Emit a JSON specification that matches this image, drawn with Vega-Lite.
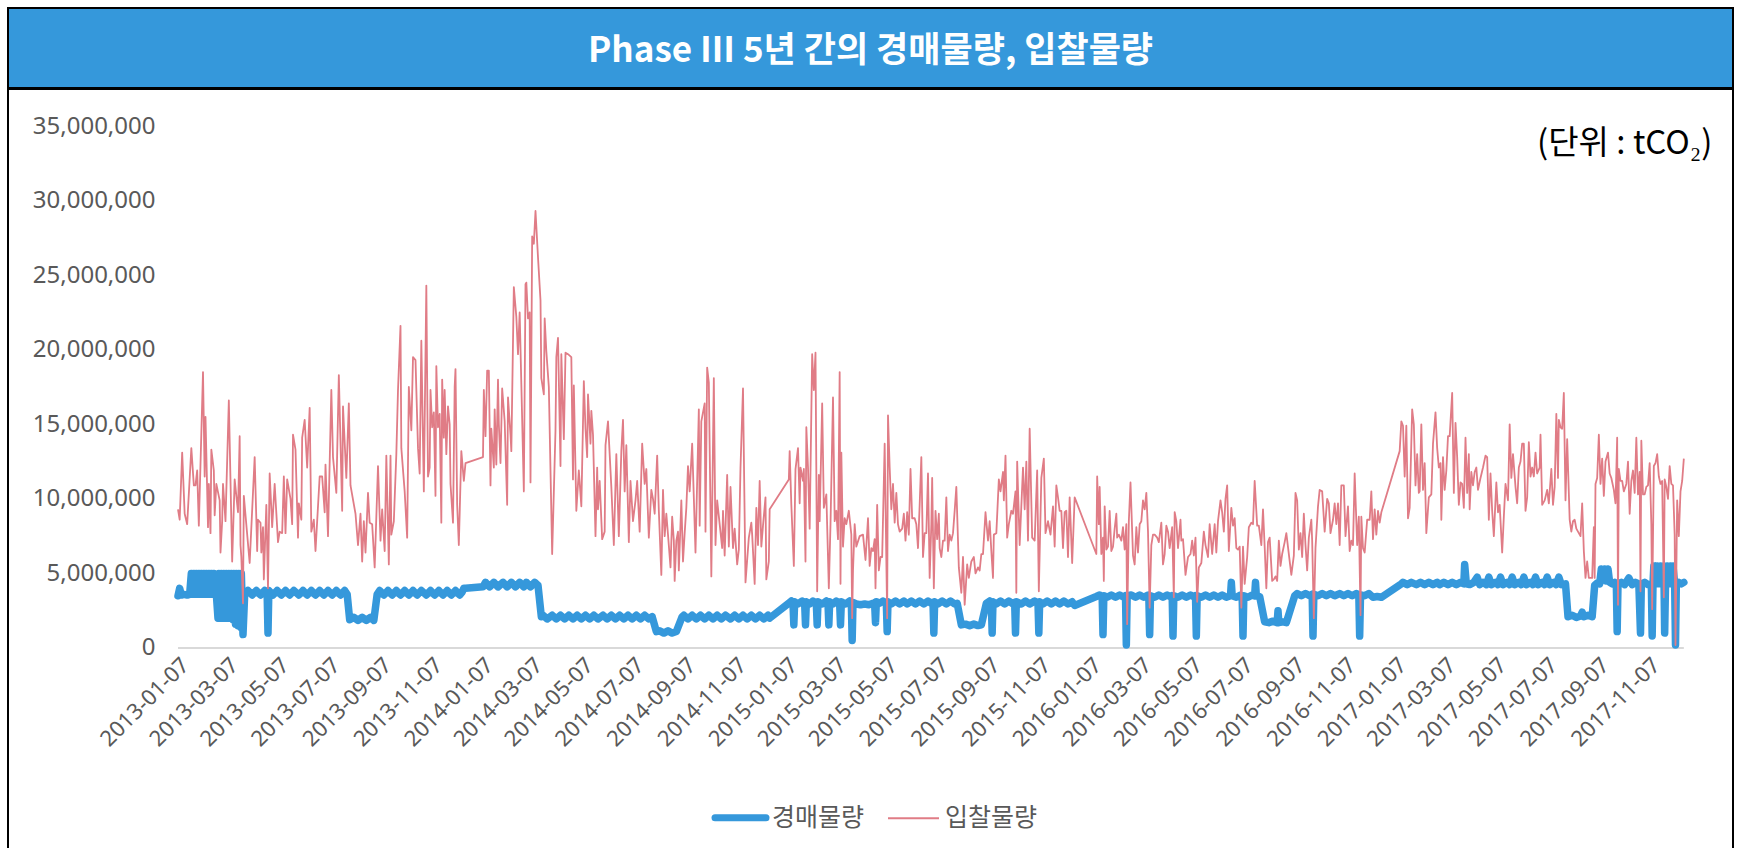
{
"$schema": "https://vega.github.io/schema/vega-lite/v6.json",
"padding": {"left": 7, "top": 7, "right": 0, "bottom": 0},
"background": "white",
"spacing": -2,
"config": {"concat": {"spacing": -2}},
"datasets": {
"ttl": [{"t": "Phase Ⅲ 5년 간의 경매물량, 입찰물량"}],
"base": [{"d": "2013-01-07", "d2": "2017-12-19", "v": 0}],
"auction": [
{"d":"2013-01-07","v":3.5},{"d":"2013-01-09","v":4.0},{"d":"2013-01-11","v":3.55},{"d":"2013-01-14","v":3.6},{"d":"2013-01-18","v":3.55},{"d":"2013-01-21","v":3.6},
{"d":"2013-01-23","v":5.0},{"d":"2013-01-24","v":3.6},{"d":"2013-01-26","v":5.0},{"d":"2013-01-27","v":3.6},{"d":"2013-01-29","v":5.0},{"d":"2013-01-30","v":3.6},{"d":"2013-02-01","v":5.0},{"d":"2013-02-02","v":3.6},{"d":"2013-02-04","v":5.0},{"d":"2013-02-05","v":3.6},{"d":"2013-02-07","v":5.0},{"d":"2013-02-08","v":3.6},{"d":"2013-02-10","v":5.0},{"d":"2013-02-11","v":3.6},{"d":"2013-02-13","v":5.0},{"d":"2013-02-14","v":3.6},{"d":"2013-02-16","v":5.0},{"d":"2013-02-17","v":3.6},{"d":"2013-02-19","v":5.0},{"d":"2013-02-20","v":3.6},{"d":"2013-02-22","v":3.6},
{"d":"2013-02-24","v":2.0},{"d":"2013-02-25","v":5.0},{"d":"2013-02-27","v":2.0},{"d":"2013-02-28","v":5.0},{"d":"2013-03-02","v":2.0},{"d":"2013-03-03","v":5.0},{"d":"2013-03-05","v":2.0},{"d":"2013-03-06","v":5.0},{"d":"2013-03-08","v":2.0},{"d":"2013-03-09","v":5.0},{"d":"2013-03-11","v":2.0},{"d":"2013-03-12","v":5.0},{"d":"2013-03-14","v":1.9},{"d":"2013-03-15","v":5.0},{"d":"2013-03-17","v":1.6},{"d":"2013-03-18","v":5.0},{"d":"2013-03-20","v":1.5},{"d":"2013-03-21","v":5.0},{"d":"2013-03-23","v":1.4},{"d":"2013-03-24","v":5.0},{"d":"2013-03-26","v":0.9},{"d":"2013-03-28","v":3.6},
{"d":"2013-04-01","v":3.85},{"d":"2013-04-06","v":3.55},{"d":"2013-04-11","v":3.85},{"d":"2013-04-16","v":3.55},{"d":"2013-04-21","v":3.85},{"d":"2013-04-24","v":3.6},{"d":"2013-04-25","v":1.0},{"d":"2013-04-26","v":3.85},
{"d":"2013-05-01","v":3.55},{"d":"2013-05-06","v":3.85},{"d":"2013-05-11","v":3.55},{"d":"2013-05-16","v":3.85},{"d":"2013-05-21","v":3.55},{"d":"2013-05-26","v":3.85},
{"d":"2013-06-01","v":3.55},{"d":"2013-06-06","v":3.85},{"d":"2013-06-11","v":3.55},{"d":"2013-06-16","v":3.85},{"d":"2013-06-21","v":3.55},{"d":"2013-06-26","v":3.85},
{"d":"2013-07-01","v":3.55},{"d":"2013-07-06","v":3.85},{"d":"2013-07-11","v":3.55},{"d":"2013-07-16","v":3.85},{"d":"2013-07-21","v":3.55},{"d":"2013-07-26","v":3.85},{"d":"2013-07-29","v":3.6},
{"d":"2013-08-01","v":1.9},{"d":"2013-08-06","v":2.05},{"d":"2013-08-11","v":1.85},{"d":"2013-08-16","v":2.05},{"d":"2013-08-21","v":1.85},{"d":"2013-08-26","v":2.05},{"d":"2013-08-30","v":1.85},
{"d":"2013-09-03","v":3.6},{"d":"2013-09-06","v":3.85},{"d":"2013-09-11","v":3.55},{"d":"2013-09-16","v":3.85},{"d":"2013-09-21","v":3.55},{"d":"2013-09-26","v":3.85},
{"d":"2013-10-01","v":3.55},{"d":"2013-10-06","v":3.85},{"d":"2013-10-11","v":3.55},{"d":"2013-10-16","v":3.85},{"d":"2013-10-21","v":3.55},{"d":"2013-10-26","v":3.85},
{"d":"2013-11-01","v":3.55},{"d":"2013-11-06","v":3.85},{"d":"2013-11-11","v":3.55},{"d":"2013-11-16","v":3.85},{"d":"2013-11-21","v":3.55},{"d":"2013-11-26","v":3.85},
{"d":"2013-12-01","v":3.55},{"d":"2013-12-06","v":3.85},{"d":"2013-12-11","v":3.55},{"d":"2013-12-14","v":3.75},{"d":"2013-12-16","v":4.0},{"d":"2013-12-18","v":4.0},
{"d":"2014-01-08","v":4.1},{"d":"2014-01-11","v":4.4},{"d":"2014-01-16","v":4.1},{"d":"2014-01-21","v":4.4},{"d":"2014-01-26","v":4.1},
{"d":"2014-02-01","v":4.4},{"d":"2014-02-06","v":4.1},{"d":"2014-02-11","v":4.4},{"d":"2014-02-16","v":4.1},{"d":"2014-02-21","v":4.4},{"d":"2014-02-26","v":4.1},
{"d":"2014-03-01","v":4.4},{"d":"2014-03-06","v":4.1},{"d":"2014-03-11","v":4.4},{"d":"2014-03-15","v":4.2},{"d":"2014-03-19","v":2.1},{"d":"2014-03-21","v":2.2},{"d":"2014-03-26","v":1.95},
{"d":"2014-04-01","v":2.2},{"d":"2014-04-06","v":1.95},{"d":"2014-04-11","v":2.2},{"d":"2014-04-16","v":1.95},{"d":"2014-04-21","v":2.2},{"d":"2014-04-26","v":1.95},
{"d":"2014-05-01","v":2.2},{"d":"2014-05-06","v":1.95},{"d":"2014-05-11","v":2.2},{"d":"2014-05-16","v":1.95},{"d":"2014-05-21","v":2.2},{"d":"2014-05-26","v":1.95},
{"d":"2014-06-01","v":2.2},{"d":"2014-06-06","v":1.95},{"d":"2014-06-11","v":2.2},{"d":"2014-06-16","v":1.95},{"d":"2014-06-21","v":2.2},{"d":"2014-06-26","v":1.95},
{"d":"2014-07-01","v":2.2},{"d":"2014-07-06","v":1.95},{"d":"2014-07-11","v":2.2},{"d":"2014-07-16","v":1.95},{"d":"2014-07-21","v":2.2},{"d":"2014-07-26","v":1.95},{"d":"2014-07-30","v":2.1},
{"d":"2014-08-04","v":1.1},{"d":"2014-08-08","v":1.15},{"d":"2014-08-13","v":1.0},{"d":"2014-08-18","v":1.15},{"d":"2014-08-23","v":1.0},{"d":"2014-08-28","v":1.1},
{"d":"2014-09-04","v":2.1},{"d":"2014-09-06","v":2.2},{"d":"2014-09-11","v":1.95},{"d":"2014-09-16","v":2.2},{"d":"2014-09-21","v":1.95},{"d":"2014-09-26","v":2.2},
{"d":"2014-10-01","v":1.95},{"d":"2014-10-06","v":2.2},{"d":"2014-10-11","v":1.95},{"d":"2014-10-16","v":2.2},{"d":"2014-10-21","v":1.95},{"d":"2014-10-26","v":2.2},
{"d":"2014-11-01","v":1.95},{"d":"2014-11-06","v":2.2},{"d":"2014-11-11","v":1.95},{"d":"2014-11-16","v":2.2},{"d":"2014-11-21","v":1.95},{"d":"2014-11-26","v":2.2},
{"d":"2014-12-01","v":1.95},{"d":"2014-12-06","v":2.2},{"d":"2014-12-11","v":1.95},{"d":"2014-12-16","v":2.2},{"d":"2014-12-18","v":2.0},
{"d":"2015-01-11","v":3.05},{"d":"2015-01-13","v":3.15},{"d":"2015-01-15","v":3.0},{"d":"2015-01-16","v":1.55},{"d":"2015-01-17","v":3.1},{"d":"2015-01-21","v":2.95},{"d":"2015-01-26","v":3.15},{"d":"2015-01-29","v":3.0},{"d":"2015-01-30","v":1.55},{"d":"2015-01-31","v":3.1},
{"d":"2015-02-04","v":2.95},{"d":"2015-02-08","v":3.15},{"d":"2015-02-12","v":3.0},{"d":"2015-02-13","v":1.55},{"d":"2015-02-14","v":3.1},{"d":"2015-02-19","v":2.95},{"d":"2015-02-24","v":3.15},{"d":"2015-02-26","v":3.0},{"d":"2015-02-27","v":1.55},{"d":"2015-02-28","v":3.1},
{"d":"2015-03-04","v":2.95},{"d":"2015-03-08","v":3.15},{"d":"2015-03-12","v":3.0},{"d":"2015-03-13","v":1.55},{"d":"2015-03-14","v":3.1},{"d":"2015-03-19","v":2.95},{"d":"2015-03-24","v":3.15},{"d":"2015-03-26","v":3.0},{"d":"2015-03-27","v":0.5},{"d":"2015-03-28","v":3.05},
{"d":"2015-04-01","v":2.95},{"d":"2015-04-06","v":2.9},{"d":"2015-04-11","v":2.95},{"d":"2015-04-16","v":2.9},{"d":"2015-04-21","v":3.0},{"d":"2015-04-23","v":2.95},{"d":"2015-04-24","v":1.7},{"d":"2015-04-25","v":3.1},{"d":"2015-04-29","v":3.0},
{"d":"2015-05-03","v":3.15},{"d":"2015-05-07","v":3.0},{"d":"2015-05-08","v":1.1},{"d":"2015-05-09","v":3.1},{"d":"2015-05-13","v":2.95},{"d":"2015-05-18","v":3.15},{"d":"2015-05-23","v":2.95},{"d":"2015-05-28","v":3.15},
{"d":"2015-06-01","v":2.95},{"d":"2015-06-06","v":3.15},{"d":"2015-06-11","v":2.95},{"d":"2015-06-16","v":3.15},{"d":"2015-06-21","v":2.95},{"d":"2015-06-26","v":3.15},
{"d":"2015-07-01","v":2.95},{"d":"2015-07-02","v":3.05},{"d":"2015-07-03","v":1.0},{"d":"2015-07-04","v":3.1},{"d":"2015-07-08","v":2.95},{"d":"2015-07-13","v":3.15},{"d":"2015-07-18","v":2.95},{"d":"2015-07-23","v":3.15},{"d":"2015-07-28","v":2.95},{"d":"2015-07-31","v":3.0},
{"d":"2015-08-05","v":1.55},{"d":"2015-08-10","v":1.6},{"d":"2015-08-15","v":1.5},{"d":"2015-08-20","v":1.6},{"d":"2015-08-25","v":1.5},{"d":"2015-08-29","v":1.55},
{"d":"2015-09-04","v":3.0},{"d":"2015-09-08","v":3.15},{"d":"2015-09-10","v":3.0},{"d":"2015-09-11","v":1.0},{"d":"2015-09-12","v":3.1},{"d":"2015-09-16","v":2.95},{"d":"2015-09-21","v":3.15},{"d":"2015-09-26","v":2.95},
{"d":"2015-10-01","v":3.15},{"d":"2015-10-06","v":2.95},{"d":"2015-10-08","v":3.05},{"d":"2015-10-09","v":1.0},{"d":"2015-10-10","v":3.1},{"d":"2015-10-16","v":2.95},{"d":"2015-10-21","v":3.15},{"d":"2015-10-26","v":2.95},
{"d":"2015-11-01","v":3.15},{"d":"2015-11-05","v":3.0},{"d":"2015-11-06","v":1.0},{"d":"2015-11-07","v":3.1},{"d":"2015-11-11","v":2.95},{"d":"2015-11-16","v":3.15},{"d":"2015-11-21","v":2.95},{"d":"2015-11-26","v":3.15},
{"d":"2015-12-01","v":2.95},{"d":"2015-12-06","v":3.15},{"d":"2015-12-11","v":2.95},{"d":"2015-12-16","v":3.1},{"d":"2015-12-19","v":2.85},
{"d":"2016-01-14","v":3.45},{"d":"2016-01-18","v":3.55},{"d":"2016-01-21","v":3.45},{"d":"2016-01-22","v":0.9},{"d":"2016-01-23","v":3.5},{"d":"2016-01-27","v":3.4},
{"d":"2016-02-01","v":3.55},{"d":"2016-02-06","v":3.4},{"d":"2016-02-11","v":3.55},{"d":"2016-02-16","v":3.4},{"d":"2016-02-18","v":3.5},{"d":"2016-02-19","v":0.2},{"d":"2016-02-20","v":3.5},{"d":"2016-02-25","v":3.55},
{"d":"2016-03-01","v":3.4},{"d":"2016-03-06","v":3.55},{"d":"2016-03-11","v":3.4},{"d":"2016-03-16","v":3.55},{"d":"2016-03-17","v":3.45},{"d":"2016-03-18","v":0.9},{"d":"2016-03-19","v":3.5},{"d":"2016-03-24","v":3.4},{"d":"2016-03-29","v":3.55},
{"d":"2016-04-03","v":3.4},{"d":"2016-04-08","v":3.55},{"d":"2016-04-13","v":3.4},{"d":"2016-04-14","v":3.5},{"d":"2016-04-15","v":0.8},{"d":"2016-04-16","v":3.5},{"d":"2016-04-21","v":3.4},{"d":"2016-04-26","v":3.55},
{"d":"2016-05-01","v":3.4},{"d":"2016-05-06","v":3.55},{"d":"2016-05-11","v":3.4},{"d":"2016-05-12","v":3.5},{"d":"2016-05-13","v":0.8},{"d":"2016-05-14","v":3.5},{"d":"2016-05-19","v":3.4},{"d":"2016-05-24","v":3.55},{"d":"2016-05-29","v":3.4},
{"d":"2016-06-03","v":3.55},{"d":"2016-06-08","v":3.4},{"d":"2016-06-13","v":3.55},{"d":"2016-06-18","v":3.4},{"d":"2016-06-23","v":3.5},{"d":"2016-06-24","v":4.4},{"d":"2016-06-25","v":3.5},{"d":"2016-06-30","v":3.4},
{"d":"2016-07-05","v":3.55},{"d":"2016-07-07","v":3.45},{"d":"2016-07-08","v":0.8},{"d":"2016-07-09","v":3.5},{"d":"2016-07-14","v":3.4},{"d":"2016-07-19","v":3.55},{"d":"2016-07-22","v":3.5},{"d":"2016-07-23","v":4.4},{"d":"2016-07-24","v":3.5},{"d":"2016-07-28","v":3.45},
{"d":"2016-08-03","v":1.75},{"d":"2016-08-08","v":1.7},{"d":"2016-08-13","v":1.8},{"d":"2016-08-18","v":1.7},{"d":"2016-08-19","v":2.5},{"d":"2016-08-20","v":1.7},{"d":"2016-08-25","v":1.75},{"d":"2016-08-29","v":1.7},
{"d":"2016-09-08","v":3.5},{"d":"2016-09-11","v":3.65},{"d":"2016-09-16","v":3.5},{"d":"2016-09-21","v":3.65},{"d":"2016-09-26","v":3.5},{"d":"2016-09-29","v":3.6},{"d":"2016-09-30","v":0.8},
{"d":"2016-10-01","v":3.6},{"d":"2016-10-06","v":3.5},{"d":"2016-10-11","v":3.65},{"d":"2016-10-16","v":3.5},{"d":"2016-10-21","v":3.65},{"d":"2016-10-26","v":3.5},
{"d":"2016-11-01","v":3.65},{"d":"2016-11-06","v":3.5},{"d":"2016-11-11","v":3.65},{"d":"2016-11-16","v":3.5},{"d":"2016-11-21","v":3.65},{"d":"2016-11-24","v":3.55},{"d":"2016-11-25","v":0.8},{"d":"2016-11-26","v":3.55},
{"d":"2016-12-01","v":3.5},{"d":"2016-12-06","v":3.65},{"d":"2016-12-11","v":3.4},{"d":"2016-12-16","v":3.45},{"d":"2016-12-21","v":3.4},
{"d":"2017-01-14","v":4.3},{"d":"2017-01-16","v":4.4},{"d":"2017-01-21","v":4.25},{"d":"2017-01-26","v":4.4},
{"d":"2017-02-01","v":4.25},{"d":"2017-02-06","v":4.4},{"d":"2017-02-11","v":4.25},{"d":"2017-02-16","v":4.4},{"d":"2017-02-21","v":4.25},{"d":"2017-02-26","v":4.4},
{"d":"2017-03-01","v":4.25},{"d":"2017-03-06","v":4.4},{"d":"2017-03-11","v":4.25},{"d":"2017-03-16","v":4.4},{"d":"2017-03-21","v":4.25},{"d":"2017-03-26","v":4.4},{"d":"2017-03-30","v":4.3},{"d":"2017-03-31","v":5.6},{"d":"2017-04-02","v":4.3},
{"d":"2017-04-06","v":4.25},{"d":"2017-04-11","v":4.4},{"d":"2017-04-15","v":4.75},{"d":"2017-04-18","v":4.25},{"d":"2017-04-22","v":4.4},{"d":"2017-04-26","v":4.25},{"d":"2017-04-29","v":4.75},
{"d":"2017-05-02","v":4.25},{"d":"2017-05-07","v":4.4},{"d":"2017-05-10","v":4.25},{"d":"2017-05-13","v":4.75},{"d":"2017-05-16","v":4.25},{"d":"2017-05-21","v":4.4},{"d":"2017-05-24","v":4.25},{"d":"2017-05-27","v":4.75},{"d":"2017-05-30","v":4.25},
{"d":"2017-06-04","v":4.4},{"d":"2017-06-07","v":4.25},{"d":"2017-06-10","v":4.75},{"d":"2017-06-13","v":4.25},{"d":"2017-06-18","v":4.4},{"d":"2017-06-21","v":4.25},{"d":"2017-06-24","v":4.75},{"d":"2017-06-27","v":4.25},
{"d":"2017-07-02","v":4.4},{"d":"2017-07-05","v":4.25},{"d":"2017-07-08","v":4.75},{"d":"2017-07-11","v":4.25},{"d":"2017-07-16","v":4.4},{"d":"2017-07-19","v":4.25},{"d":"2017-07-22","v":4.75},{"d":"2017-07-25","v":4.25},{"d":"2017-07-30","v":4.3},
{"d":"2017-08-02","v":2.1},{"d":"2017-08-07","v":2.2},{"d":"2017-08-12","v":2.05},{"d":"2017-08-17","v":2.15},{"d":"2017-08-19","v":2.4},{"d":"2017-08-21","v":2.1},{"d":"2017-08-26","v":2.2},{"d":"2017-08-31","v":2.1},
{"d":"2017-09-03","v":4.2},{"d":"2017-09-06","v":4.35},{"d":"2017-09-09","v":4.3},{"d":"2017-09-11","v":5.3},{"d":"2017-09-13","v":4.6},{"d":"2017-09-15","v":5.3},{"d":"2017-09-17","v":4.5},{"d":"2017-09-19","v":5.3},{"d":"2017-09-21","v":4.4},{"d":"2017-09-24","v":4.3},{"d":"2017-09-27","v":4.4},{"d":"2017-09-29","v":4.3},{"d":"2017-09-30","v":1.1},
{"d":"2017-10-01","v":4.3},{"d":"2017-10-05","v":4.4},{"d":"2017-10-09","v":4.25},{"d":"2017-10-14","v":4.7},{"d":"2017-10-18","v":4.25},{"d":"2017-10-22","v":4.4},{"d":"2017-10-26","v":4.3},{"d":"2017-10-28","v":1.0},{"d":"2017-10-29","v":4.3},
{"d":"2017-11-02","v":4.4},{"d":"2017-11-06","v":4.25},{"d":"2017-11-10","v":4.3},{"d":"2017-11-11","v":0.8},{"d":"2017-11-12","v":4.3},{"d":"2017-11-13","v":5.5},{"d":"2017-11-15","v":4.3},{"d":"2017-11-17","v":5.5},{"d":"2017-11-19","v":4.3},{"d":"2017-11-21","v":5.5},{"d":"2017-11-23","v":4.3},{"d":"2017-11-25","v":5.5},{"d":"2017-11-26","v":1.0},{"d":"2017-11-27","v":4.3},{"d":"2017-11-29","v":5.5},
{"d":"2017-12-01","v":4.3},{"d":"2017-12-03","v":5.5},{"d":"2017-12-05","v":4.3},{"d":"2017-12-06","v":5.5},{"d":"2017-12-08","v":4.3},{"d":"2017-12-09","v":0.2},{"d":"2017-12-10","v":4.3},{"d":"2017-12-13","v":4.4},{"d":"2017-12-16","v":4.3},{"d":"2017-12-19","v":4.4}
],
"bids": [
{"d":"2013-01-07","v":9.3},{"d":"2013-01-09","v":8.6},{"d":"2013-01-12","v":13.1},{"d":"2013-01-15","v":9.0},{"d":"2013-01-18","v":8.3},{"d":"2013-01-23","v":13.4},{"d":"2013-01-26","v":10.9},{"d":"2013-01-28","v":10.9},{"d":"2013-01-30","v":11.9},
{"d":"2013-02-01","v":8.2},{"d":"2013-02-06","v":18.5},{"d":"2013-02-08","v":11.5},{"d":"2013-02-09","v":15.5},{"d":"2013-02-12","v":8.1},{"d":"2013-02-13","v":11.0},{"d":"2013-02-15","v":7.7},{"d":"2013-02-16","v":13.3},{"d":"2013-02-19","v":11.9},{"d":"2013-02-20","v":8.9},{"d":"2013-02-22","v":11.0},{"d":"2013-02-26","v":9.9},{"d":"2013-02-27","v":6.4},
{"d":"2013-03-01","v":8.5},{"d":"2013-03-02","v":11.0},{"d":"2013-03-05","v":8.5},{"d":"2013-03-09","v":16.6},{"d":"2013-03-13","v":5.8},{"d":"2013-03-16","v":11.3},{"d":"2013-03-20","v":9.1},{"d":"2013-03-22","v":14.2},{"d":"2013-03-23","v":6.9},{"d":"2013-03-24","v":6.1},{"d":"2013-03-26","v":3.0},{"d":"2013-03-27","v":10.2},
{"d":"2013-04-03","v":5.7},{"d":"2013-04-09","v":12.8},{"d":"2013-04-12","v":6.5},{"d":"2013-04-13","v":8.6},{"d":"2013-04-16","v":8.4},{"d":"2013-04-17","v":6.4},{"d":"2013-04-19","v":8.1},{"d":"2013-04-20","v":4.6},{"d":"2013-04-23","v":9.6},{"d":"2013-04-25","v":4.0},{"d":"2013-04-27","v":11.7},{"d":"2013-04-30","v":8.1},
{"d":"2013-05-03","v":11.0},{"d":"2013-05-07","v":7.1},{"d":"2013-05-09","v":7.8},{"d":"2013-05-12","v":7.7},{"d":"2013-05-14","v":11.5},{"d":"2013-05-16","v":7.7},{"d":"2013-05-18","v":11.3},{"d":"2013-05-22","v":10.0},{"d":"2013-05-24","v":8.3},{"d":"2013-05-25","v":14.3},{"d":"2013-05-28","v":13.3},{"d":"2013-05-31","v":7.4},
{"d":"2013-06-01","v":9.7},{"d":"2013-06-04","v":8.6},{"d":"2013-06-05","v":14.1},{"d":"2013-06-08","v":15.3},{"d":"2013-06-11","v":12.1},{"d":"2013-06-14","v":16.1},{"d":"2013-06-16","v":7.8},{"d":"2013-06-19","v":8.6},{"d":"2013-06-21","v":6.5},{"d":"2013-06-26","v":11.5},{"d":"2013-06-29","v":11.5},
{"d":"2013-07-02","v":9.1},{"d":"2013-07-03","v":12.3},{"d":"2013-07-06","v":7.5},{"d":"2013-07-10","v":17.3},{"d":"2013-07-12","v":12.8},{"d":"2013-07-16","v":10.4},{"d":"2013-07-19","v":18.3},{"d":"2013-07-23","v":9.2},{"d":"2013-07-24","v":16.2},{"d":"2013-07-28","v":11.4},{"d":"2013-07-31","v":16.4},
{"d":"2013-08-02","v":10.9},{"d":"2013-08-08","v":9.0},{"d":"2013-08-11","v":6.9},{"d":"2013-08-14","v":9.0},{"d":"2013-08-16","v":5.8},{"d":"2013-08-18","v":8.5},{"d":"2013-08-20","v":6.4},{"d":"2013-08-23","v":10.4},{"d":"2013-08-25","v":8.4},{"d":"2013-08-28","v":8.3},{"d":"2013-08-31","v":5.4},
{"d":"2013-09-04","v":12.2},{"d":"2013-09-07","v":7.2},{"d":"2013-09-09","v":9.3},{"d":"2013-09-12","v":6.5},{"d":"2013-09-14","v":12.9},{"d":"2013-09-17","v":5.6},{"d":"2013-09-19","v":12.9},{"d":"2013-09-20","v":7.6},{"d":"2013-09-23","v":8.5},{"d":"2013-09-26","v":13.0},{"d":"2013-09-28","v":17.3},
{"d":"2013-10-01","v":21.6},{"d":"2013-10-02","v":13.4},{"d":"2013-10-06","v":10.5},{"d":"2013-10-09","v":7.4},{"d":"2013-10-11","v":17.5},{"d":"2013-10-14","v":14.6},{"d":"2013-10-16","v":19.5},{"d":"2013-10-19","v":19.3},{"d":"2013-10-22","v":13.4},{"d":"2013-10-24","v":11.7},{"d":"2013-10-26","v":20.6},{"d":"2013-10-29","v":10.5},
{"d":"2013-11-01","v":24.3},{"d":"2013-11-03","v":11.5},{"d":"2013-11-05","v":12.1},{"d":"2013-11-06","v":17.3},{"d":"2013-11-08","v":14.8},{"d":"2013-11-10","v":15.8},{"d":"2013-11-12","v":10.2},{"d":"2013-11-13","v":18.9},{"d":"2013-11-15","v":14.8},{"d":"2013-11-17","v":15.7},{"d":"2013-11-19","v":8.4},{"d":"2013-11-20","v":18.0},{"d":"2013-11-22","v":14.1},{"d":"2013-11-23","v":17.3},{"d":"2013-11-25","v":13.0},{"d":"2013-11-27","v":16.2},{"d":"2013-11-29","v":15.0},{"d":"2013-11-30","v":11.0},
{"d":"2013-12-03","v":8.4},{"d":"2013-12-05","v":17.5},{"d":"2013-12-06","v":18.7},{"d":"2013-12-08","v":9.6},{"d":"2013-12-10","v":6.9},{"d":"2013-12-13","v":13.2},{"d":"2013-12-16","v":11.2},{"d":"2013-12-18","v":12.4},
{"d":"2014-01-08","v":12.8},{"d":"2014-01-09","v":17.3},{"d":"2014-01-11","v":14.2},{"d":"2014-01-13","v":18.6},{"d":"2014-01-15","v":18.6},{"d":"2014-01-17","v":10.9},{"d":"2014-01-18","v":14.7},{"d":"2014-01-21","v":12.1},{"d":"2014-01-22","v":16.0},{"d":"2014-01-24","v":12.3},{"d":"2014-01-26","v":18.0},{"d":"2014-01-27","v":15.0},{"d":"2014-01-29","v":12.4},{"d":"2014-01-31","v":17.4},
{"d":"2014-02-03","v":15.2},{"d":"2014-02-06","v":9.6},{"d":"2014-02-07","v":16.8},{"d":"2014-02-10","v":14.3},{"d":"2014-02-11","v":13.2},{"d":"2014-02-14","v":24.2},{"d":"2014-02-17","v":22.2},{"d":"2014-02-19","v":19.7},{"d":"2014-02-21","v":22.5},{"d":"2014-02-23","v":17.7},{"d":"2014-02-26","v":10.5},{"d":"2014-02-28","v":24.4},
{"d":"2014-03-01","v":24.5},{"d":"2014-03-03","v":22.1},{"d":"2014-03-05","v":22.5},{"d":"2014-03-06","v":11.1},{"d":"2014-03-08","v":27.6},{"d":"2014-03-10","v":27.1},{"d":"2014-03-12","v":29.3},{"d":"2014-03-15","v":26.2},{"d":"2014-03-18","v":23.3},{"d":"2014-03-19","v":18.1},{"d":"2014-03-22","v":17.0},{"d":"2014-03-23","v":22.1},{"d":"2014-03-25","v":19.9},{"d":"2014-03-28","v":17.5},
{"d":"2014-04-01","v":6.3},{"d":"2014-04-05","v":14.6},{"d":"2014-04-06","v":19.5},{"d":"2014-04-08","v":20.8},{"d":"2014-04-11","v":12.2},{"d":"2014-04-12","v":19.7},{"d":"2014-04-15","v":14.0},{"d":"2014-04-17","v":19.8},{"d":"2014-04-20","v":19.7},{"d":"2014-04-24","v":19.5},{"d":"2014-04-26","v":11.3},{"d":"2014-04-27","v":17.6},{"d":"2014-04-30","v":9.2},
{"d":"2014-05-03","v":11.9},{"d":"2014-05-06","v":9.5},{"d":"2014-05-09","v":17.9},{"d":"2014-05-11","v":14.7},{"d":"2014-05-13","v":12.8},{"d":"2014-05-14","v":17.0},{"d":"2014-05-17","v":13.7},{"d":"2014-05-18","v":15.9},{"d":"2014-05-20","v":14.3},{"d":"2014-05-23","v":7.5},{"d":"2014-05-25","v":12.1},{"d":"2014-05-26","v":9.3},{"d":"2014-05-28","v":11.2},{"d":"2014-05-31","v":7.3},
{"d":"2014-06-03","v":7.8},{"d":"2014-06-04","v":13.6},{"d":"2014-06-07","v":15.2},{"d":"2014-06-11","v":10.8},{"d":"2014-06-14","v":6.9},{"d":"2014-06-17","v":13.0},{"d":"2014-06-20","v":7.5},{"d":"2014-06-23","v":13.2},{"d":"2014-06-25","v":15.3},{"d":"2014-06-27","v":10.5},{"d":"2014-06-29","v":13.6},
{"d":"2014-07-02","v":7.1},{"d":"2014-07-04","v":11.2},{"d":"2014-07-07","v":8.5},{"d":"2014-07-10","v":9.9},{"d":"2014-07-12","v":11.2},{"d":"2014-07-15","v":7.8},{"d":"2014-07-18","v":13.7},{"d":"2014-07-21","v":11.0},{"d":"2014-07-23","v":12.0},{"d":"2014-07-26","v":7.4},{"d":"2014-07-29","v":10.6},{"d":"2014-07-31","v":10.0},
{"d":"2014-08-02","v":9.0},{"d":"2014-08-05","v":12.9},{"d":"2014-08-07","v":9.2},{"d":"2014-08-10","v":4.9},{"d":"2014-08-12","v":10.6},{"d":"2014-08-14","v":7.5},{"d":"2014-08-16","v":9.0},{"d":"2014-08-18","v":7.6},{"d":"2014-08-21","v":5.4},{"d":"2014-08-23","v":8.8},{"d":"2014-08-25","v":7.2},{"d":"2014-08-26","v":4.5},{"d":"2014-08-28","v":7.2},{"d":"2014-08-30","v":7.8},{"d":"2014-08-31","v":5.2},
{"d":"2014-09-03","v":9.9},{"d":"2014-09-05","v":5.8},{"d":"2014-09-07","v":7.7},{"d":"2014-09-09","v":9.4},{"d":"2014-09-11","v":12.2},{"d":"2014-09-13","v":10.5},{"d":"2014-09-16","v":13.7},{"d":"2014-09-20","v":6.4},{"d":"2014-09-24","v":16.0},{"d":"2014-09-25","v":8.2},{"d":"2014-09-27","v":15.2},
{"d":"2014-10-01","v":16.4},{"d":"2014-10-02","v":7.8},{"d":"2014-10-04","v":18.8},{"d":"2014-10-06","v":17.8},{"d":"2014-10-09","v":4.8},{"d":"2014-10-12","v":18.1},{"d":"2014-10-14","v":6.9},{"d":"2014-10-16","v":9.9},{"d":"2014-10-19","v":8.3},{"d":"2014-10-22","v":6.7},{"d":"2014-10-23","v":9.2},{"d":"2014-10-25","v":6.2},{"d":"2014-10-28","v":11.6},{"d":"2014-10-30","v":6.8},
{"d":"2014-11-01","v":10.8},{"d":"2014-11-04","v":6.7},{"d":"2014-11-06","v":8.0},{"d":"2014-11-09","v":5.6},{"d":"2014-11-11","v":6.6},{"d":"2014-11-13","v":12.1},{"d":"2014-11-16","v":17.4},{"d":"2014-11-19","v":4.4},{"d":"2014-11-23","v":7.4},{"d":"2014-11-26","v":8.4},{"d":"2014-11-27","v":7.6},{"d":"2014-11-30","v":4.3},
{"d":"2014-12-02","v":9.4},{"d":"2014-12-04","v":6.9},{"d":"2014-12-06","v":11.2},{"d":"2014-12-08","v":6.8},{"d":"2014-12-10","v":8.2},{"d":"2014-12-13","v":10.1},{"d":"2014-12-14","v":4.6},{"d":"2014-12-17","v":5.8},{"d":"2014-12-18","v":9.3},
{"d":"2015-01-10","v":11.3},{"d":"2015-01-11","v":13.2},{"d":"2015-01-13","v":9.6},{"d":"2015-01-16","v":5.5},{"d":"2015-01-18","v":12.0},{"d":"2015-01-21","v":13.4},{"d":"2015-01-23","v":9.7},{"d":"2015-01-24","v":12.1},{"d":"2015-01-27","v":11.2},{"d":"2015-01-28","v":12.0},{"d":"2015-01-30","v":5.8},{"d":"2015-01-31","v":14.8},
{"d":"2015-02-02","v":12.1},{"d":"2015-02-04","v":8.0},{"d":"2015-02-07","v":19.7},{"d":"2015-02-09","v":17.3},{"d":"2015-02-11","v":19.8},{"d":"2015-02-13","v":3.8},{"d":"2015-02-15","v":11.6},{"d":"2015-02-16","v":8.5},{"d":"2015-02-19","v":16.4},{"d":"2015-02-21","v":9.4},{"d":"2015-02-24","v":10.3},{"d":"2015-02-27","v":4.0},
{"d":"2015-03-01","v":8.3},{"d":"2015-03-04","v":16.8},{"d":"2015-03-06","v":8.5},{"d":"2015-03-08","v":9.2},{"d":"2015-03-10","v":7.3},{"d":"2015-03-12","v":18.5},{"d":"2015-03-13","v":4.3},{"d":"2015-03-14","v":13.1},{"d":"2015-03-16","v":6.8},{"d":"2015-03-18","v":8.7},{"d":"2015-03-20","v":8.3},{"d":"2015-03-23","v":9.2},{"d":"2015-03-26","v":7.6},{"d":"2015-03-27","v":2.0},{"d":"2015-03-28","v":5.2},{"d":"2015-03-30","v":8.3},
{"d":"2015-04-01","v":6.8},{"d":"2015-04-05","v":7.5},{"d":"2015-04-09","v":7.6},{"d":"2015-04-12","v":5.9},{"d":"2015-04-15","v":8.7},{"d":"2015-04-17","v":5.5},{"d":"2015-04-19","v":6.7},{"d":"2015-04-21","v":6.5},{"d":"2015-04-23","v":7.3},{"d":"2015-04-24","v":4.0},{"d":"2015-04-26","v":9.6},{"d":"2015-04-28","v":5.2},{"d":"2015-04-30","v":6.1},
{"d":"2015-05-02","v":6.1},{"d":"2015-05-05","v":13.7},{"d":"2015-05-08","v":2.0},{"d":"2015-05-09","v":15.6},{"d":"2015-05-11","v":12.1},{"d":"2015-05-13","v":9.3},{"d":"2015-05-15","v":11.0},{"d":"2015-05-17","v":8.4},{"d":"2015-05-19","v":10.4},{"d":"2015-05-21","v":8.3},{"d":"2015-05-23","v":7.8},{"d":"2015-05-26","v":8.0},{"d":"2015-05-28","v":9.0},{"d":"2015-05-30","v":7.2},
{"d":"2015-06-01","v":9.1},{"d":"2015-06-03","v":7.6},{"d":"2015-06-05","v":12.0},{"d":"2015-06-07","v":8.7},{"d":"2015-06-10","v":8.7},{"d":"2015-06-12","v":8.3},{"d":"2015-06-14","v":6.7},{"d":"2015-06-16","v":9.6},{"d":"2015-06-18","v":12.8},{"d":"2015-06-20","v":6.1},{"d":"2015-06-22","v":7.7},{"d":"2015-06-24","v":7.7},{"d":"2015-06-26","v":11.7},{"d":"2015-06-28","v":4.7},{"d":"2015-06-30","v":8.3},
{"d":"2015-07-01","v":11.4},{"d":"2015-07-03","v":4.0},{"d":"2015-07-05","v":9.2},{"d":"2015-07-07","v":7.3},{"d":"2015-07-09","v":9.0},{"d":"2015-07-10","v":6.7},{"d":"2015-07-12","v":6.1},{"d":"2015-07-14","v":7.2},{"d":"2015-07-16","v":7.2},{"d":"2015-07-18","v":10.1},{"d":"2015-07-20","v":6.5},{"d":"2015-07-22","v":7.6},{"d":"2015-07-24","v":7.2},{"d":"2015-07-26","v":7.7},{"d":"2015-07-28","v":9.2},{"d":"2015-07-30","v":10.8},
{"d":"2015-08-02","v":5.4},{"d":"2015-08-05","v":3.7},{"d":"2015-08-07","v":6.1},{"d":"2015-08-09","v":2.9},{"d":"2015-08-12","v":5.6},{"d":"2015-08-14","v":4.7},{"d":"2015-08-17","v":5.8},{"d":"2015-08-20","v":6.1},{"d":"2015-08-22","v":5.0},{"d":"2015-08-25","v":5.4},{"d":"2015-08-27","v":5.2},{"d":"2015-08-29","v":6.3},{"d":"2015-08-31","v":6.3},
{"d":"2015-09-03","v":9.1},{"d":"2015-09-06","v":7.2},{"d":"2015-09-08","v":8.5},{"d":"2015-09-10","v":6.5},{"d":"2015-09-12","v":4.7},{"d":"2015-09-13","v":7.6},{"d":"2015-09-16","v":7.7},{"d":"2015-09-19","v":11.3},{"d":"2015-09-21","v":10.5},{"d":"2015-09-24","v":11.8},{"d":"2015-09-25","v":9.9},{"d":"2015-09-27","v":12.9},{"d":"2015-09-29","v":7.4},
{"d":"2015-10-01","v":8.3},{"d":"2015-10-04","v":9.2},{"d":"2015-10-06","v":9.0},{"d":"2015-10-09","v":10.5},{"d":"2015-10-10","v":3.7},{"d":"2015-10-11","v":12.5},{"d":"2015-10-14","v":6.9},{"d":"2015-10-18","v":12.1},{"d":"2015-10-20","v":9.3},{"d":"2015-10-22","v":12.5},{"d":"2015-10-24","v":7.2},{"d":"2015-10-26","v":14.7},{"d":"2015-10-29","v":7.4},
{"d":"2015-11-01","v":7.2},{"d":"2015-11-04","v":11.9},{"d":"2015-11-06","v":3.8},{"d":"2015-11-09","v":11.4},{"d":"2015-11-12","v":12.7},{"d":"2015-11-14","v":7.7},{"d":"2015-11-17","v":8.5},{"d":"2015-11-20","v":7.6},{"d":"2015-11-23","v":9.5},{"d":"2015-11-25","v":6.8},{"d":"2015-11-27","v":10.9},{"d":"2015-11-29","v":10.1},
{"d":"2015-12-01","v":9.2},{"d":"2015-12-03","v":9.2},{"d":"2015-12-05","v":6.7},{"d":"2015-12-07","v":9.1},{"d":"2015-12-09","v":9.2},{"d":"2015-12-11","v":6.1},{"d":"2015-12-13","v":10.1},{"d":"2015-12-16","v":5.7},{"d":"2015-12-19","v":10.1},
{"d":"2016-01-14","v":6.3},{"d":"2016-01-15","v":11.5},{"d":"2016-01-17","v":8.3},{"d":"2016-01-18","v":10.8},{"d":"2016-01-20","v":6.3},{"d":"2016-01-22","v":7.4},{"d":"2016-01-23","v":4.5},{"d":"2016-01-24","v":9.5},{"d":"2016-01-26","v":6.6},{"d":"2016-01-28","v":6.8},{"d":"2016-01-30","v":9.2},
{"d":"2016-02-01","v":6.5},{"d":"2016-02-03","v":6.8},{"d":"2016-02-05","v":8.0},{"d":"2016-02-07","v":9.0},{"d":"2016-02-08","v":7.4},{"d":"2016-02-10","v":7.6},{"d":"2016-02-13","v":7.2},{"d":"2016-02-15","v":8.1},{"d":"2016-02-17","v":6.6},{"d":"2016-02-19","v":8.3},{"d":"2016-02-20","v":1.6},{"d":"2016-02-22","v":8.5},{"d":"2016-02-24","v":11.1},{"d":"2016-02-27","v":6.2},{"d":"2016-02-29","v":5.6},
{"d":"2016-03-02","v":8.1},{"d":"2016-03-04","v":6.4},{"d":"2016-03-06","v":8.3},{"d":"2016-03-08","v":8.5},{"d":"2016-03-10","v":9.9},{"d":"2016-03-12","v":9.3},{"d":"2016-03-14","v":10.4},{"d":"2016-03-16","v":7.8},{"d":"2016-03-18","v":2.7},{"d":"2016-03-20","v":6.9},{"d":"2016-03-22","v":7.6},{"d":"2016-03-24","v":7.6},{"d":"2016-03-27","v":7.4},{"d":"2016-03-29","v":7.1},
{"d":"2016-04-01","v":8.4},{"d":"2016-04-03","v":5.6},{"d":"2016-04-05","v":6.3},{"d":"2016-04-07","v":8.2},{"d":"2016-04-09","v":7.8},{"d":"2016-04-11","v":6.7},{"d":"2016-04-14","v":8.1},{"d":"2016-04-16","v":3.4},{"d":"2016-04-17","v":9.1},{"d":"2016-04-19","v":8.5},{"d":"2016-04-21","v":6.7},{"d":"2016-04-24","v":8.6},{"d":"2016-04-25","v":7.2},{"d":"2016-04-27","v":7.3},{"d":"2016-04-30","v":4.9},
{"d":"2016-05-03","v":6.1},{"d":"2016-05-06","v":6.3},{"d":"2016-05-08","v":7.2},{"d":"2016-05-10","v":6.2},{"d":"2016-05-12","v":7.4},{"d":"2016-05-14","v":3.1},{"d":"2016-05-16","v":5.4},{"d":"2016-05-19","v":5.7},{"d":"2016-05-22","v":7.8},{"d":"2016-05-24","v":6.9},{"d":"2016-05-27","v":6.1},{"d":"2016-05-29","v":8.3},
{"d":"2016-06-01","v":6.3},{"d":"2016-06-04","v":8.3},{"d":"2016-06-06","v":6.4},{"d":"2016-06-08","v":8.5},{"d":"2016-06-11","v":9.9},{"d":"2016-06-13","v":9.1},{"d":"2016-06-15","v":7.8},{"d":"2016-06-17","v":10.0},{"d":"2016-06-19","v":10.9},{"d":"2016-06-21","v":6.5},{"d":"2016-06-24","v":9.4},{"d":"2016-06-26","v":8.2},{"d":"2016-06-28","v":8.7},{"d":"2016-06-30","v":6.7},
{"d":"2016-07-02","v":6.6},{"d":"2016-07-04","v":6.8},{"d":"2016-07-06","v":2.7},{"d":"2016-07-08","v":6.8},{"d":"2016-07-10","v":4.3},{"d":"2016-07-13","v":6.1},{"d":"2016-07-15","v":8.1},{"d":"2016-07-18","v":8.4},{"d":"2016-07-20","v":8.3},{"d":"2016-07-22","v":11.2},{"d":"2016-07-25","v":8.2},{"d":"2016-07-27","v":8.2},{"d":"2016-07-30","v":6.9},
{"d":"2016-08-01","v":9.3},{"d":"2016-08-03","v":6.8},{"d":"2016-08-05","v":4.0},{"d":"2016-08-07","v":7.1},{"d":"2016-08-09","v":7.4},{"d":"2016-08-12","v":4.5},{"d":"2016-08-14","v":4.6},{"d":"2016-08-16","v":4.8},{"d":"2016-08-18","v":4.5},{"d":"2016-08-20","v":7.2},{"d":"2016-08-22","v":5.5},{"d":"2016-08-24","v":6.3},{"d":"2016-08-27","v":7.1},{"d":"2016-08-29","v":7.7},
{"d":"2016-09-01","v":6.3},{"d":"2016-09-04","v":4.9},{"d":"2016-09-07","v":6.2},{"d":"2016-09-09","v":10.4},{"d":"2016-09-11","v":9.9},{"d":"2016-09-13","v":6.6},{"d":"2016-09-15","v":7.7},{"d":"2016-09-17","v":6.1},{"d":"2016-09-19","v":9.0},{"d":"2016-09-21","v":6.9},{"d":"2016-09-23","v":5.2},{"d":"2016-09-25","v":7.4},{"d":"2016-09-28","v":8.6},{"d":"2016-09-29","v":7.2},
{"d":"2016-10-01","v":2.0},{"d":"2016-10-03","v":6.7},{"d":"2016-10-06","v":9.5},{"d":"2016-10-08","v":10.6},{"d":"2016-10-11","v":10.5},{"d":"2016-10-14","v":7.8},{"d":"2016-10-17","v":10.0},{"d":"2016-10-19","v":9.7},{"d":"2016-10-21","v":7.7},{"d":"2016-10-24","v":8.6},{"d":"2016-10-26","v":9.7},{"d":"2016-10-28","v":8.3},{"d":"2016-10-30","v":9.7},
{"d":"2016-11-01","v":6.9},{"d":"2016-11-03","v":10.9},{"d":"2016-11-06","v":10.9},{"d":"2016-11-08","v":7.5},{"d":"2016-11-11","v":9.5},{"d":"2016-11-13","v":6.5},{"d":"2016-11-15","v":7.2},{"d":"2016-11-17","v":6.9},{"d":"2016-11-19","v":11.7},{"d":"2016-11-22","v":6.9},{"d":"2016-11-24","v":8.8},{"d":"2016-11-26","v":2.2},{"d":"2016-11-27","v":8.8},{"d":"2016-11-29","v":6.7},
{"d":"2016-12-01","v":6.4},{"d":"2016-12-04","v":8.6},{"d":"2016-12-07","v":8.6},{"d":"2016-12-09","v":10.5},{"d":"2016-12-11","v":7.3},{"d":"2016-12-13","v":9.3},{"d":"2016-12-15","v":7.6},{"d":"2016-12-17","v":9.2},{"d":"2016-12-19","v":8.4},{"d":"2016-12-21","v":9.1},
{"d":"2017-01-12","v":13.2},{"d":"2017-01-14","v":15.2},{"d":"2017-01-16","v":14.9},{"d":"2017-01-18","v":11.5},{"d":"2017-01-20","v":14.9},{"d":"2017-01-22","v":8.7},{"d":"2017-01-24","v":9.4},{"d":"2017-01-27","v":16.0},{"d":"2017-01-29","v":15.0},{"d":"2017-01-31","v":10.9},
{"d":"2017-02-02","v":13.0},{"d":"2017-02-04","v":10.4},{"d":"2017-02-05","v":10.5},{"d":"2017-02-07","v":15.0},{"d":"2017-02-09","v":10.6},{"d":"2017-02-11","v":12.4},{"d":"2017-02-13","v":7.7},{"d":"2017-02-16","v":10.1},{"d":"2017-02-19","v":10.3},{"d":"2017-02-21","v":13.7},{"d":"2017-02-24","v":15.8},{"d":"2017-02-26","v":13.4},{"d":"2017-02-28","v":12.1},
{"d":"2017-03-02","v":12.4},{"d":"2017-03-03","v":8.6},{"d":"2017-03-05","v":12.8},{"d":"2017-03-07","v":10.6},{"d":"2017-03-09","v":11.9},{"d":"2017-03-11","v":14.2},{"d":"2017-03-13","v":14.2},{"d":"2017-03-16","v":17.1},{"d":"2017-03-18","v":10.4},{"d":"2017-03-20","v":15.1},{"d":"2017-03-22","v":12.8},{"d":"2017-03-24","v":9.6},{"d":"2017-03-26","v":11.1},{"d":"2017-03-28","v":11.0},{"d":"2017-03-30","v":9.4},
{"d":"2017-04-01","v":14.1},{"d":"2017-04-03","v":10.4},{"d":"2017-04-05","v":13.0},{"d":"2017-04-06","v":9.3},{"d":"2017-04-08","v":11.8},{"d":"2017-04-10","v":10.9},{"d":"2017-04-12","v":11.8},{"d":"2017-04-14","v":12.1},{"d":"2017-04-16","v":10.6},{"d":"2017-04-19","v":11.4},{"d":"2017-04-22","v":12.1},{"d":"2017-04-25","v":12.9},{"d":"2017-04-27","v":12.8},{"d":"2017-04-29","v":8.6},
{"d":"2017-05-01","v":11.7},{"d":"2017-05-03","v":9.2},{"d":"2017-05-05","v":7.5},{"d":"2017-05-08","v":11.1},{"d":"2017-05-10","v":9.1},{"d":"2017-05-12","v":9.6},{"d":"2017-05-15","v":6.4},{"d":"2017-05-17","v":8.8},{"d":"2017-05-19","v":11.0},{"d":"2017-05-22","v":9.9},{"d":"2017-05-24","v":15.0},{"d":"2017-05-26","v":11.4},{"d":"2017-05-28","v":13.0},{"d":"2017-05-31","v":10.8},
{"d":"2017-06-02","v":9.7},{"d":"2017-06-04","v":12.1},{"d":"2017-06-06","v":12.5},{"d":"2017-06-08","v":13.7},{"d":"2017-06-10","v":13.7},{"d":"2017-06-12","v":9.2},{"d":"2017-06-14","v":10.1},{"d":"2017-06-16","v":13.8},{"d":"2017-06-18","v":11.5},{"d":"2017-06-20","v":12.1},{"d":"2017-06-22","v":11.5},{"d":"2017-06-24","v":13.1},{"d":"2017-06-26","v":11.7},{"d":"2017-06-29","v":12.1},{"d":"2017-06-30","v":14.3},
{"d":"2017-07-02","v":9.6},{"d":"2017-07-05","v":9.9},{"d":"2017-07-08","v":10.6},{"d":"2017-07-10","v":9.7},{"d":"2017-07-13","v":12.0},{"d":"2017-07-15","v":9.6},{"d":"2017-07-17","v":10.8},{"d":"2017-07-19","v":15.7},{"d":"2017-07-21","v":11.4},{"d":"2017-07-22","v":15.3},{"d":"2017-07-24","v":14.8},{"d":"2017-07-26","v":14.7},{"d":"2017-07-28","v":17.1},{"d":"2017-07-30","v":9.9},
{"d":"2017-08-01","v":14.0},{"d":"2017-08-04","v":8.6},{"d":"2017-08-06","v":7.8},{"d":"2017-08-08","v":8.5},{"d":"2017-08-10","v":8.6},{"d":"2017-08-12","v":8.0},{"d":"2017-08-14","v":7.8},{"d":"2017-08-17","v":7.5},{"d":"2017-08-19","v":9.7},{"d":"2017-08-21","v":6.5},{"d":"2017-08-23","v":4.7},{"d":"2017-08-25","v":5.8},{"d":"2017-08-27","v":4.7},{"d":"2017-08-29","v":4.7},{"d":"2017-08-31","v":4.7},
{"d":"2017-09-02","v":8.1},{"d":"2017-09-03","v":4.7},{"d":"2017-09-04","v":11.0},{"d":"2017-09-06","v":11.4},{"d":"2017-09-08","v":14.3},{"d":"2017-09-10","v":11.0},{"d":"2017-09-12","v":12.7},{"d":"2017-09-14","v":10.2},{"d":"2017-09-16","v":12.5},{"d":"2017-09-19","v":13.1},{"d":"2017-09-21","v":11.7},{"d":"2017-09-23","v":11.4},{"d":"2017-09-26","v":10.6},{"d":"2017-09-28","v":9.7},{"d":"2017-09-30","v":14.1},
{"d":"2017-10-01","v":2.9},{"d":"2017-10-02","v":12.0},{"d":"2017-10-04","v":11.2},{"d":"2017-10-06","v":11.2},{"d":"2017-10-08","v":10.5},{"d":"2017-10-11","v":11.0},{"d":"2017-10-13","v":12.5},{"d":"2017-10-15","v":9.0},{"d":"2017-10-17","v":11.2},{"d":"2017-10-19","v":11.9},{"d":"2017-10-21","v":10.4},{"d":"2017-10-23","v":14.1},{"d":"2017-10-25","v":10.3},{"d":"2017-10-27","v":11.8},{"d":"2017-10-28","v":3.8},{"d":"2017-10-29","v":13.9},{"d":"2017-10-31","v":10.3},
{"d":"2017-11-02","v":10.3},{"d":"2017-11-04","v":10.8},{"d":"2017-11-06","v":10.9},{"d":"2017-11-08","v":12.4},{"d":"2017-11-10","v":8.3},{"d":"2017-11-11","v":2.6},{"d":"2017-11-13","v":12.2},{"d":"2017-11-15","v":12.4},{"d":"2017-11-17","v":13.0},{"d":"2017-11-19","v":11.5},{"d":"2017-11-21","v":11.0},{"d":"2017-11-23","v":11.2},{"d":"2017-11-25","v":3.4},{"d":"2017-11-26","v":11.3},{"d":"2017-11-28","v":10.8},{"d":"2017-11-30","v":10.0},
{"d":"2017-12-02","v":12.2},{"d":"2017-12-04","v":11.0},{"d":"2017-12-06","v":10.9},{"d":"2017-12-08","v":7.6},{"d":"2017-12-09","v":0.2},{"d":"2017-12-11","v":9.9},{"d":"2017-12-13","v":7.5},{"d":"2017-12-15","v":10.5},{"d":"2017-12-17","v":11.2},{"d":"2017-12-19","v":12.7}
]
},
"vconcat": [
{
"width": 1725, "height": 80,
"view": {"fill": "#3598DB", "stroke": "black", "strokeWidth": 2},
"data": {"name": "ttl"},
"mark": {"type": "text", "color": "white", "font": "Noto Sans CJK KR", "fontSize": 35, "fontWeight": "bold", "align": "center", "baseline": "middle", "dy": 3},
"encoding": {"text": {"field": "t", "type": "nominal"}}
},
{
"width": 1725, "height": 760,
"view": {"fill": "white", "stroke": "black", "strokeWidth": 2},
"encoding": {
"x": {"field": "d", "type": "temporal",
 "scale": {"type": "utc", "domain": [{"year": 2012, "month": 6, "date": 17, "utc": true}, {"year": 2018, "month": 2, "date": 16, "utc": true}]},
 "axis": {"title": null, "offset": -201, "domain": false, "ticks": false, "tickSize": 0, "grid": false, "format": "%Y-%m-%d", "labelAngle": -45, "labelAlign": "right", "labelBaseline": "top", "labelPadding": 6, "labelFont": "Noto Sans", "labelFontSize": 22, "labelColor": "#595959", "labelOverlap": false, "labelFlush": false,
  "values": [{"year":2013,"month":1,"date":7,"utc":true},{"year":2013,"month":3,"date":7,"utc":true},{"year":2013,"month":5,"date":7,"utc":true},{"year":2013,"month":7,"date":7,"utc":true},{"year":2013,"month":9,"date":7,"utc":true},{"year":2013,"month":11,"date":7,"utc":true},
  {"year":2014,"month":1,"date":7,"utc":true},{"year":2014,"month":3,"date":7,"utc":true},{"year":2014,"month":5,"date":7,"utc":true},{"year":2014,"month":7,"date":7,"utc":true},{"year":2014,"month":9,"date":7,"utc":true},{"year":2014,"month":11,"date":7,"utc":true},
  {"year":2015,"month":1,"date":7,"utc":true},{"year":2015,"month":3,"date":7,"utc":true},{"year":2015,"month":5,"date":7,"utc":true},{"year":2015,"month":7,"date":7,"utc":true},{"year":2015,"month":9,"date":7,"utc":true},{"year":2015,"month":11,"date":7,"utc":true},
  {"year":2016,"month":1,"date":7,"utc":true},{"year":2016,"month":3,"date":7,"utc":true},{"year":2016,"month":5,"date":7,"utc":true},{"year":2016,"month":7,"date":7,"utc":true},{"year":2016,"month":9,"date":7,"utc":true},{"year":2016,"month":11,"date":7,"utc":true},
  {"year":2017,"month":1,"date":7,"utc":true},{"year":2017,"month":3,"date":7,"utc":true},{"year":2017,"month":5,"date":7,"utc":true},{"year":2017,"month":7,"date":7,"utc":true},{"year":2017,"month":9,"date":7,"utc":true},{"year":2017,"month":11,"date":7,"utc":true}]}},
"y": {"field": "v", "type": "quantitative",
 "scale": {"domain": [-13.478, 37.481], "nice": false, "zero": false},
 "axis": {"title": "(단위 : tCO₂)", "titleAngle": 0, "titleX": 1557, "titleY": 54, "titleAlign": "right", "titleBaseline": "middle", "titleFont": "Noto Sans CJK KR", "titleFontSize": 33, "titleFontWeight": "normal", "titleColor": "black",
  "offset": -147, "domain": false, "ticks": false, "tickSize": 0, "grid": false, "labelPadding": 0, "labelFont": "Noto Sans", "labelFontSize": 24, "labelColor": "#595959", "labelOverlap": false,
  "values": [0, 5, 10, 15, 20, 25, 30, 35], "labelExpr": "format(datum.value * 1000000, ',')"}}
},
"layer": [
{"data": {"name": "base"}, "mark": {"type": "rule", "color": "#D9D9D9", "strokeWidth": 2}, "encoding": {"x2": {"field": "d2"}}},
{"data": {"name": "auction"}, "mark": {"type": "line", "strokeWidth": 7.5, "strokeCap": "round", "strokeJoin": "round"},
 "encoding": {"color": {"datum": "경매물량", "type": "nominal",
  "scale": {"domain": ["경매물량", "입찰물량"], "range": ["#3598DB", "#E07C86"]},
  "legend": {"title": null, "orient": "none", "legendX": 720, "legendY": 797, "direction": "horizontal", "symbolType": "stroke", "symbolSize": 2601, "symbolStrokeWidth": 2, "labelFont": "Noto Sans CJK KR", "labelFontSize": 25, "labelColor": "#595959", "labelOffset": 19, "columnPadding": 19, "padding": 0,
   "encode": {"symbols": {"update": {"strokeWidth": {"signal": "datum.value === '경매물량' ? 7 : 2"}, "strokeCap": {"signal": "datum.value === '경매물량' ? 'round' : 'butt'"}}}}}}}},
{"data": {"name": "bids"}, "mark": {"type": "line", "strokeWidth": 1.8, "strokeJoin": "round"},
 "encoding": {"color": {"datum": "입찰물량", "type": "nominal"}}}
]
}
]
}
